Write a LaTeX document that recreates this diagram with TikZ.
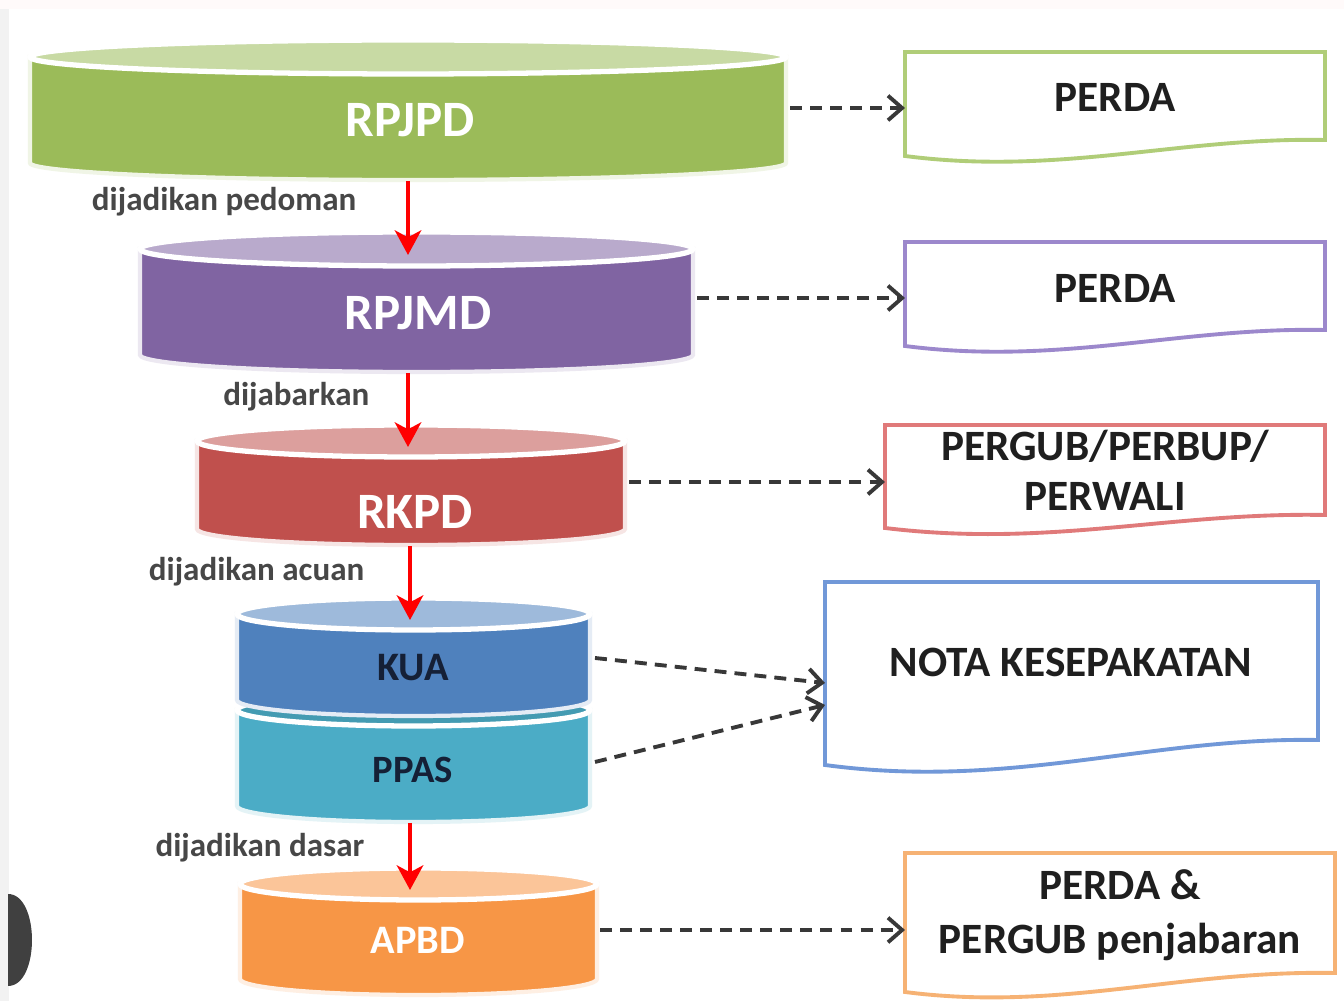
\documentclass[tikz,border=0pt]{standalone}
\usepackage{fontspec}
\setmainfont{Carlito}
\usetikzlibrary{arrows.meta}

\definecolor{rpjpdgreen}{HTML}{9BBB59}
\definecolor{rpjmdpurple}{HTML}{8064A2}
\definecolor{rkpdred}{HTML}{C0504D}
\definecolor{kuablue}{HTML}{4F81BD}
\definecolor{ppasteal}{HTML}{4BACC6}
\definecolor{apbdorange}{HTML}{F79646}
\definecolor{navytext}{HTML}{152036}
\definecolor{greenline}{HTML}{B0CD78}
\definecolor{purpleline}{HTML}{9C88CC}
\definecolor{redline}{HTML}{E07A7A}
\definecolor{blueline}{HTML}{7198D8}
\definecolor{orangeline}{HTML}{F6B274}

\begin{document}
\begin{tikzpicture}[x=0.01cm, y=-0.01cm,
    body/.style={line width=1.2pt},
    lid/.style={draw=white, line width=1.5pt},
    disklabel/.style={font=\bfseries\fontsize{14.5}{16}\selectfont, text=white},
    smalldisk/.style={font=\bfseries\fontsize{11.5}{13}\selectfont, text=navytext},
    steplabel/.style={anchor=east, inner sep=0pt, font=\bfseries\fontsize{9.4}{11}\selectfont, text=black!72},
    down/.style={red, line width=1.2pt, -{Stealth[length=7pt, width=7.5pt, inset=2pt]}},
    toout/.style={black!78, line width=1.1pt, dash pattern=on 3.4pt off 2.3pt, -{Straight Barb[length=4pt, width=7pt]}},
    doc/.style={line width=1.1pt, fill=white},
    doctext/.style={font=\bfseries\fontsize{12.3}{14.2}\selectfont, text=black!88, align=center}]

    % page
    \useasboundingbox (0,0) rectangle (1344,1001);
    \fill[white] (0,0) rectangle (1344,1001);
    \fill[pink!8] (0,0) rectangle (1344,9);
    \fill[black!5] (0,9) rectangle (9,1001);
    \fill[black!75] (8,894) .. controls (40,894) and (40,986) .. (8,986) -- cycle;

    % RPJPD
    \filldraw[body, fill=rpjpdgreen, draw=white!85!rpjpdgreen] (30,57) -- (30,163) arc[start angle=180, end angle=0, x radius=378, y radius=17] -- (786,57) -- cycle;
    \filldraw[lid, fill=rpjpdgreen!55!white] (408,57) ellipse[x radius=378, y radius=17];
    \node[disklabel] (rpjpd) at (410,120) {RPJPD};
    \coordinate (rpjpd-s) at (408,181);
    \coordinate (rpjpd-e) at (790,108);

    % RPJMD
    \filldraw[body, fill=rpjmdpurple, draw=white!85!rpjmdpurple] (140,249) -- (140,355) arc[start angle=180, end angle=0, x radius=276.5, y radius=17] -- (693,249) -- cycle;
    \filldraw[lid, fill=rpjmdpurple!55!white] (416.5,249) ellipse[x radius=276.5, y radius=17];
    \node[disklabel] (rpjmd) at (418,313) {RPJMD};
    \coordinate (rpjmd-n) at (408,255);
    \coordinate (rpjmd-s) at (408,373);
    \coordinate (rpjmd-e) at (697,298);

    % RKPD
    \filldraw[body, fill=rkpdred, draw=white!85!rkpdred] (197,441) -- (197,529) arc[start angle=180, end angle=0, x radius=214, y radius=16] -- (625,441) -- cycle;
    \filldraw[lid, fill=rkpdred!55!white] (411,441) ellipse[x radius=214, y radius=16];
    \node[disklabel] (rkpd) at (415,512) {RKPD};
    \coordinate (rkpd-n) at (408,447);
    \coordinate (rkpd-s) at (410,546);
    \coordinate (rkpd-e) at (629,482);

    % PPAS under KUA
    \filldraw[body, fill=ppasteal, draw=white!85!ppasteal] (237,710) -- (237,806) arc[start angle=180, end angle=0, x radius=176.5, y radius=16] -- (590,710) -- cycle;
    \filldraw[lid, fill=ppasteal!90!black] (413.5,710) ellipse[x radius=176.5, y radius=16];
    \filldraw[body, fill=kuablue, draw=white!85!kuablue] (237,614) -- (237,700) arc[start angle=180, end angle=0, x radius=176.5, y radius=16] -- (590,614) -- cycle;
    \filldraw[lid, fill=kuablue!55!white] (413.5,614) ellipse[x radius=176.5, y radius=16];
    \node[smalldisk] (kua) at (413,668) {KUA};
    \node[smalldisk, font=\bfseries\fontsize{11}{13}\selectfont] (ppas) at (413,770) {PPAS};
    \coordinate (kua-n) at (410,620);
    \coordinate (kua-e) at (595,658);
    \coordinate (ppas-s) at (410,823);
    \coordinate (ppas-e) at (595,762);

    % APBD
    \filldraw[body, fill=apbdorange, draw=white!85!apbdorange] (240,884) -- (240,979) arc[start angle=180, end angle=0, x radius=178.5, y radius=16] -- (597,884) -- cycle;
    \filldraw[lid, fill=apbdorange!55!white] (418.5,884) ellipse[x radius=178.5, y radius=16];
    \node[disklabel, font=\bfseries\fontsize{11.5}{13}\selectfont] (apbd) at (418,940) {APBD};
    \coordinate (apbd-n) at (410,890);
    \coordinate (apbd-e) at (600,930);

    % step labels
    \node[steplabel] (pedoman) at (357,202) {dijadikan pedoman};
    \node[steplabel] (jabar) at (370,397) {dijabarkan};
    \node[steplabel] (acuan) at (365,572) {dijadikan acuan};
    \node[steplabel] (dasar) at (365,848) {dijadikan dasar};

    % documents
    \filldraw[doc, draw=greenline] (905,52) -- (1325,52) -- (1325,140) .. controls (1180,137) and (1060,176) .. (905,156) -- cycle;
    \node[doctext] (perdaA) at (1115,97) {PERDA};
    \coordinate (perdaA-w) at (905,108);

    \filldraw[doc, draw=purpleline] (905,242) -- (1325,242) -- (1325,330) .. controls (1180,327) and (1060,366) .. (905,346) -- cycle;
    \node[doctext] (perdaB) at (1115,288) {PERDA};
    \coordinate (perdaB-w) at (905,298);

    \filldraw[doc, draw=redline] (885,425) -- (1325,425) -- (1325,515) .. controls (1170,512) and (1050,548) .. (885,528) -- cycle;
    \node[doctext] (pergub) at (1105,470) {PERGUB/PERBUP/\\PERWALI};
    \coordinate (pergub-w) at (885,482);

    \filldraw[doc, draw=blueline] (825,582) -- (1318,582) -- (1318,740) .. controls (1150,737) and (1010,790) .. (825,765) -- cycle;
    \node[doctext] (nota) at (1071,662) {NOTA KESEPAKATAN};
    \coordinate (nota-w1) at (825,683);
    \coordinate (nota-w2) at (825,705);

    \filldraw[doc, draw=orangeline] (905,853) -- (1335,853) -- (1335,973) .. controls (1180,970) and (1060,1012) .. (905,992) -- cycle;
    \node[doctext, font=\bfseries\fontsize{12.3}{15.4}\selectfont] (perdaC) at (1120,915) {PERDA \&\\PERGUB penjabaran};
    \coordinate (perdaC-w) at (905,930);

    % flow
    \draw[down] (rpjpd-s) -- (rpjmd-n);
    \draw[down] (rpjmd-s) -- (rkpd-n);
    \draw[down] (rkpd-s) -- (kua-n);
    \draw[down] (ppas-s) -- (apbd-n);

    \draw[toout] (rpjpd-e) -- (perdaA-w);
    \draw[toout] (rpjmd-e) -- (perdaB-w);
    \draw[toout] (rkpd-e) -- (pergub-w);
    \draw[toout] (kua-e) -- (nota-w1);
    \draw[toout] (ppas-e) -- (nota-w2);
    \draw[toout] (apbd-e) -- (perdaC-w);
\end{tikzpicture}
\end{document}
